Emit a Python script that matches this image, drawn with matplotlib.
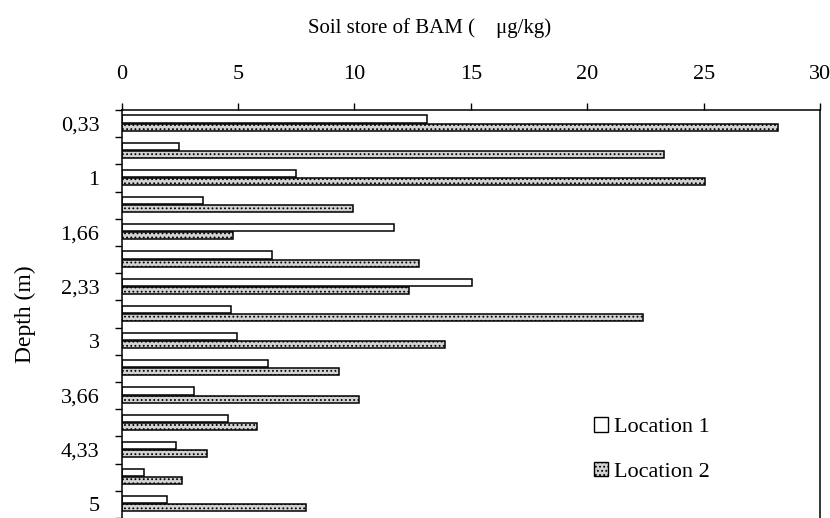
import matplotlib
matplotlib.use("Agg")
import matplotlib.pyplot as plt
import matplotlib.patches as mpatches
import numpy as np

plt.rcParams["font.family"] = ["Liberation Serif", "DejaVu Serif"]
plt.rcParams["hatch.color"] = "#8c8c8c"
plt.rcParams["hatch.linewidth"] = 0.8

depths = ["0,33", "0,66", "1", "1,33", "1,66", "2", "2,33", "2,66",
          "3", "3,33", "3,66", "4", "4,33", "4,66", "5"]
location_1 = [13.1, 2.45, 7.5, 3.5, 11.7, 6.45, 15.05, 4.7,
              4.95, 6.3, 3.1, 4.55, 2.35, 0.95, 1.95]
location_2 = [28.2, 23.3, 25.05, 9.95, 4.8, 12.75, 12.35, 22.4,
              13.9, 9.35, 10.2, 5.8, 3.65, 2.6, 7.9]
x_ticks = [0, 5, 10, 15, 20, 25, 30]

GREY = "#d2d2d2"

fig = plt.figure(figsize=(8.30, 5.18), dpi=100)
ax = fig.add_axes([0.1466, 0.0, 0.8415, 0.7876])

pos = np.arange(len(depths))
ax.barh(pos + 0.33, location_1, height=0.26, color="white",
        edgecolor="black", linewidth=1.1, label="Location 1")
ax.barh(pos + 0.63, location_2, height=0.26, color=GREY,
        edgecolor="black", linewidth=1.1, hatch="....", label="Location 2")

ax.set_xlim(0, 30)
ax.set_ylim(len(depths), 0)

# x axis on top
ax.xaxis.tick_top()
ax.set_xticks(x_ticks)
ax.set_xticklabels([str(t) for t in x_ticks], fontsize=16)
ax.tick_params(axis="x", direction="out", length=5, width=1.0, pad=14)
fig.text(430 / 830, 1 - 33 / 518, "Soil store of BAM (    μg/kg)",
         fontsize=15, ha="center", va="baseline")

# y axis: boundaries as minor ticks, every other depth labelled
ax.set_yticks(pos + 0.5)
ax.set_yticklabels([d if i % 2 == 0 else "" for i, d in enumerate(depths)],
                   fontsize=16)
ax.set_yticks(np.arange(len(depths) + 1), minor=True)
ax.tick_params(axis="y", which="major", length=0, pad=16)
ax.tick_params(axis="y", which="minor", direction="out", length=5, width=1.0)
ax.set_ylabel("Depth (m)", fontsize=17, labelpad=18)

for side in ["left", "top", "right"]:
    ax.spines[side].set_linewidth(1.1)
ax.spines["bottom"].set_visible(False)

handles = [
    mpatches.Patch(facecolor="white", edgecolor="black", linewidth=1.0, label="Location 1"),
    mpatches.Patch(facecolor=GREY, edgecolor="black", linewidth=1.0, hatch="....", label="Location 2"),
]
ax.legend(handles=handles, loc="lower right", bbox_to_anchor=(0.871, 0.04),
          frameon=False, fontsize=16, handlelength=0.6, handleheight=0.6,
          handletextpad=0.3, labelspacing=1.1)

fig.savefig("out.png", dpi=100)
